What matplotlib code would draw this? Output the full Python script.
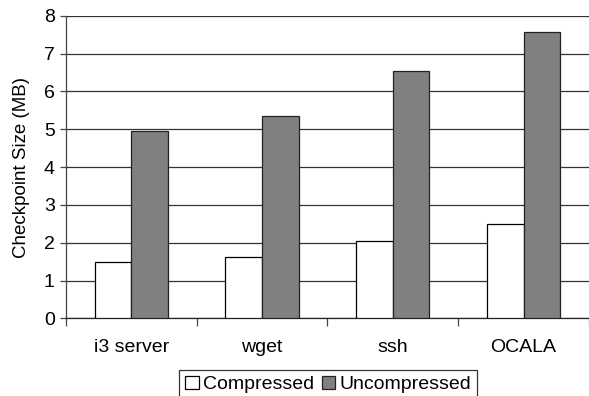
import numpy as np
import matplotlib.pyplot as plt
from matplotlib.ticker import FixedLocator

plt.rcParams['font.family'] = ['Liberation Sans', 'DejaVu Sans']

apps = ['i3 server', 'wget', 'ssh', 'OCALA']
compressed = [1.50, 1.61, 2.04, 2.50]
uncompressed = [4.95, 5.34, 6.55, 7.58]

fig = plt.figure(figsize=(5.89, 3.96), dpi=100)
ax = fig.add_axes([0.112, 0.196, 0.888, 0.764])

x = np.arange(len(apps))
w = 0.28
ax.bar(x - w / 2, compressed, w, color='white', edgecolor='black',
       linewidth=0.9, label='Compressed', zorder=3)
ax.bar(x + w / 2, uncompressed, w, color='#808080', edgecolor='#222222',
       linewidth=0.9, label='Uncompressed', zorder=3)

ax.set_xlim(-0.5, len(apps) - 0.5)
ax.set_ylim(0, 8)
ax.set_yticks(range(0, 9))
ax.yaxis.grid(True, color='#333333', linewidth=0.9, zorder=0)
ax.set_axisbelow(True)

ax.set_xticks(x)
ax.set_xticklabels(apps, fontsize=14)
ax.tick_params(axis='x', length=0, pad=15)
ax.xaxis.set_minor_locator(FixedLocator(np.arange(-0.5, len(apps), 1.0)))
ax.tick_params(axis='x', which='minor', length=6, width=0.9, color='#444444')
ax.tick_params(axis='y', labelsize=14, length=4, width=0.9, color='#444444',
               pad=4)

for side in ['top', 'right']:
    ax.spines[side].set_visible(False)
ax.spines['left'].set_color('#444444')
ax.spines['bottom'].set_color('#222222')
ax.spines['left'].set_linewidth(0.9)
ax.spines['bottom'].set_linewidth(0.9)

ax.set_ylabel('Checkpoint Size (MB)', fontsize=13.5, labelpad=10)

leg = fig.legend(loc='upper center', bbox_to_anchor=(0.557, 0.066), ncol=2,
                 fontsize=14, frameon=True, fancybox=False, borderpad=0.3,
                 handlelength=0.7, handleheight=0.7, handletextpad=0.2,
                 columnspacing=0.4, borderaxespad=0)
leg.get_frame().set_edgecolor('black')
leg.get_frame().set_linewidth(0.9)

fig.savefig('out.png', dpi=100)
